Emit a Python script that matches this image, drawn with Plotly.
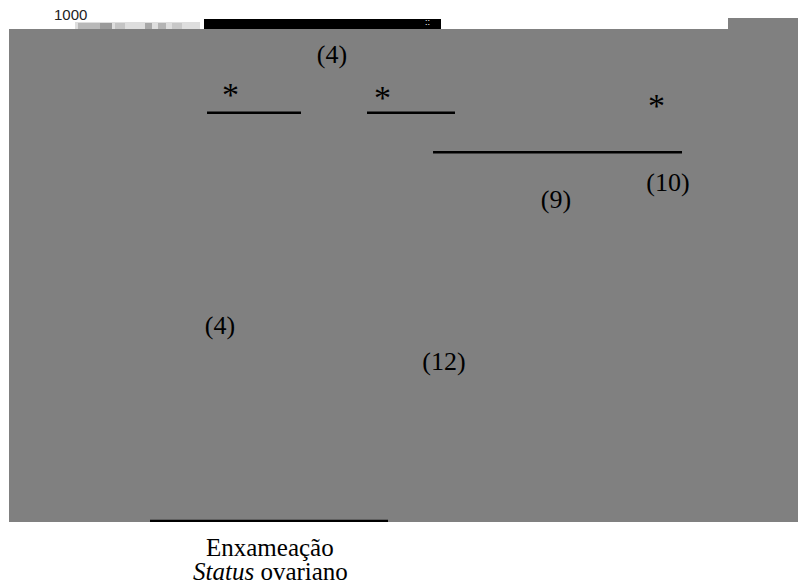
import plotly.graph_objects as go

# ---- data ----
groups = ["G1", "G2", "G3", "G4", "G5"]
group_pos = [0, 1, 2, 3, 4]
means = [363, 913, 291, 619, 653]
n_labels = ["(4)", "(4)", "(12)", "(9)", "(10)"]

# significance brackets
sig_x0 = [-0.116, 1.3125, 1.902]
sig_x1 = [0.723, 2.098, 4.125]
sig_y = [830, 830, 750]
star_x = [0.098, 1.455, 3.893]
star_y = [867, 862, 845]
star_text = ["*", "*", "*"]

axis_title_1 = "Enxameação"
axis_title_2 = "<i>Status</i> ovariano"
ytick_top = "1000"

GRAY = "#808080"
SERIF = "Liberation Serif, Times New Roman, serif"

fig = go.Figure()
fig.add_trace(go.Bar(
    x=group_pos, y=means, width=0.6,
    marker=dict(color=GRAY, line=dict(width=0)),
    text=n_labels, textposition="outside", cliponaxis=False,
    textfont=dict(family=SERIF, size=26, color="black"),
    hoverinfo="skip", showlegend=False,
))

shapes = []
for x0, x1, y in zip(sig_x0, sig_x1, sig_y):
    shapes.append(dict(type="line", xref="x", yref="y", x0=x0, x1=x1, y0=y, y1=y,
                       line=dict(color="black", width=2.5)))
shapes.append(dict(type="line", xref="x", yref="y", x0=-0.625, x1=1.5, y0=2, y1=2,
                   line=dict(color="black", width=2.5)))

# screen-pixel -> paper helpers (plot area on screen: x 9..806, y 29..522)
def px(x):
    return (x - 9) / 797.0

def py(y):
    return (522 - y) / 493.0

shapes.append(dict(type="rect", xref="paper", yref="paper", x0=px(728), x1=px(807), y0=py(29), y1=py(18),
                   fillcolor=GRAY, line=dict(width=0)))
shapes.append(dict(type="rect", xref="paper", yref="paper", x0=px(204), x1=px(441), y0=py(29), y1=py(19),
                   fillcolor="black", line=dict(width=0)))
shapes.append(dict(type="rect", xref="paper", yref="paper", x0=px(75), x1=px(200), y0=py(29), y1=py(22),
                   fillcolor="#dedede", line=dict(width=0)))
for a, b, c in [(78, 100, "#b8b8b8"), (100, 112, "#9a9a9a"), (115, 125, "#c4c4c4"),
                (145, 152, "#a8a8a8"), (158, 166, "#b4b4b4"), (172, 182, "#c8c8c8")]:
    shapes.append(dict(type="rect", xref="paper", yref="paper", x0=px(a), x1=px(b), y0=py(29), y1=py(23),
                       fillcolor=c, line=dict(width=0)))

annotations = []
for sx, sy, st in zip(star_x, star_y, star_text):
    annotations.append(dict(x=sx, y=sy, xref="x", yref="y", text=st, showarrow=False,
                            xanchor="center", yanchor="middle",
                            font=dict(family=SERIF, size=34, color="black")))
annotations.append(dict(x=px(270), y=py(547), xref="paper", yref="paper", text=axis_title_1,
                        showarrow=False, xanchor="center", yanchor="middle",
                        font=dict(family=SERIF, size=25, color="black")))
annotations.append(dict(x=px(270), y=py(571), xref="paper", yref="paper", text=axis_title_2,
                        showarrow=False, xanchor="center", yanchor="middle",
                        font=dict(family=SERIF, size=25, color="black")))
annotations.append(dict(x=px(70), y=py(15), xref="paper", yref="paper", text=ytick_top,
                        showarrow=False, xanchor="center", yanchor="middle",
                        font=dict(family="Liberation Sans, Arial", size=15, color="#222")))
annotations.append(dict(x=px(427), y=py(22), xref="paper", yref="paper", text="::",
                        showarrow=False, xanchor="center", yanchor="middle",
                        font=dict(family="Liberation Sans, Arial", size=9, color="white")))

# page body has an 8px default margin: figure is 8px smaller and offset accordingly
fig.update_layout(
    width=798, height=576,
    margin=dict(l=1, r=0, t=21, b=62),
    paper_bgcolor="white", plot_bgcolor=GRAY,
    xaxis=dict(range=[-1.884, 5.232], showticklabels=False, showgrid=False, zeroline=False,
               showline=False, ticks=""),
    yaxis=dict(range=[0, 1000], showticklabels=False, showgrid=False, zeroline=False,
               showline=False, ticks=""),
    shapes=shapes, annotations=annotations,
    bargap=0.4,
)

fig.write_html("out.html")
